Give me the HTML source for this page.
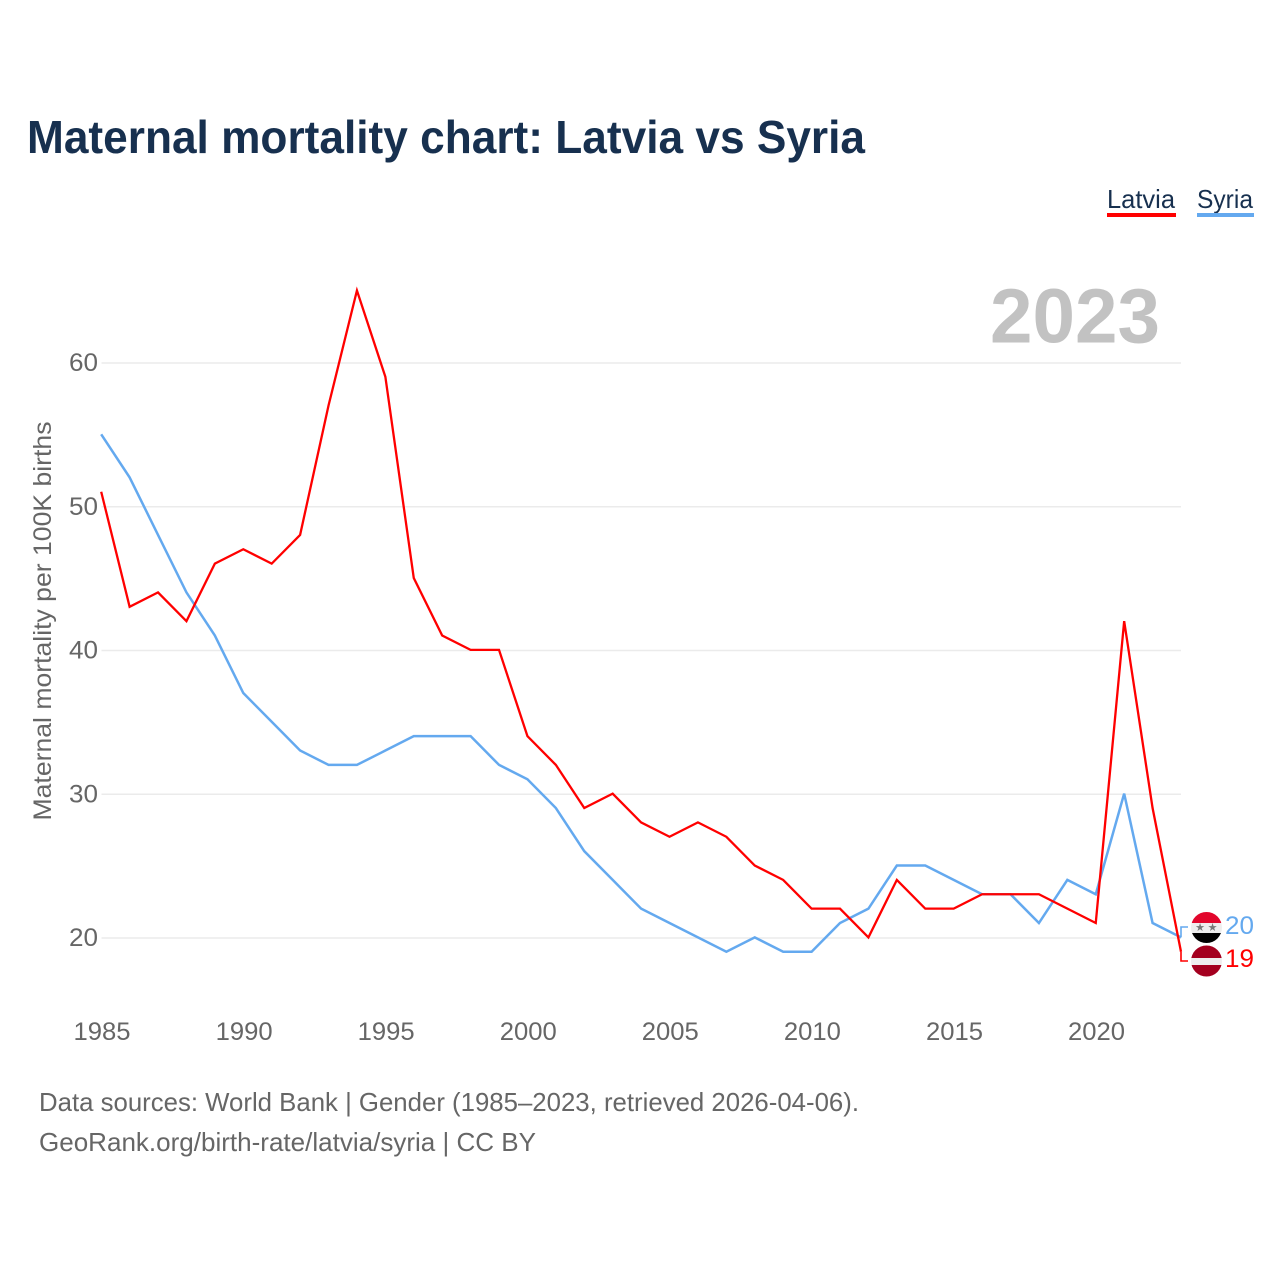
<!DOCTYPE html>
<html lang="en">
<head>
<meta charset="utf-8">
<title>Maternal mortality chart: Latvia vs Syria</title>
<style>
html,body{margin:0;padding:0;background:#fff;width:1280px;height:1280px;overflow:hidden}
svg{display:block}
text{font-family:"Liberation Sans",sans-serif}
</style>
</head>
<body>
<svg id="chart" xmlns="http://www.w3.org/2000/svg" width="1280" height="1280" viewBox="0 0 1280 1280">
  <rect width="1280" height="1280" fill="#ffffff"/>
  <text x="27" y="153" font-size="46" font-weight="700" fill="#17304f" textLength="838" lengthAdjust="spacingAndGlyphs">Maternal mortality chart: Latvia vs Syria</text>

  <g>
    <text x="1107" y="208" font-size="26" fill="#17304f" textLength="68" lengthAdjust="spacingAndGlyphs">Latvia</text>
    <rect x="1107" y="213" width="69" height="4" fill="#ff0000"/>
  </g>
  <g>
    <text x="1197" y="208" font-size="26" fill="#17304f" textLength="56" lengthAdjust="spacingAndGlyphs">Syria</text>
    <rect x="1197" y="213" width="57" height="4" fill="#64a9ef"/>
  </g>

  <text x="1160" y="342.5" text-anchor="end" font-size="77" font-weight="700" fill="#c2c2c2" textLength="170" lengthAdjust="spacingAndGlyphs">2023</text>

  <text transform="translate(51,621) rotate(-90)" text-anchor="middle" font-size="25" fill="#666666" textLength="399" lengthAdjust="spacingAndGlyphs">Maternal mortality per 100K births</text>

  <g id="grid"></g>
  <g id="yticks"></g>
  <g id="xticks"></g>
  <g id="series"></g>

  <g id="endmarks"></g>

  <defs>
    <clipPath id="clip-syria"><circle cx="1206.5" cy="927.5" r="15.5"/></clipPath>
    <clipPath id="clip-latvia"><circle cx="1206.5" cy="961" r="15.5"/></clipPath>
  </defs>
  <g clip-path="url(#clip-syria)">
    <rect x="1190" y="912" width="33" height="11" fill="#e2062c"/>
    <rect x="1190" y="923" width="33" height="10" fill="#eeeeee"/>
    <rect x="1190" y="933" width="33" height="11" fill="#000000"/>
    <text x="1200" y="931" text-anchor="middle" font-size="11" fill="#777777" style="font-family:'DejaVu Sans',sans-serif">★</text>
    <text x="1212.5" y="931" text-anchor="middle" font-size="11" fill="#777777" style="font-family:'DejaVu Sans',sans-serif">★</text>
  </g>
  <g clip-path="url(#clip-latvia)">
    <rect x="1190" y="945" width="33" height="13" fill="#a4001f"/>
    <rect x="1190" y="958" width="33" height="7" fill="#eeeeee"/>
    <rect x="1190" y="965" width="33" height="12" fill="#a4001f"/>
  </g>

  <text x="39" y="1111" font-size="26" fill="#666666" textLength="820" lengthAdjust="spacingAndGlyphs">Data sources: World Bank | Gender (1985–2023, retrieved 2026-04-06).</text>
  <text x="39" y="1151" font-size="26" fill="#666666" textLength="497" lengthAdjust="spacingAndGlyphs">GeoRank.org/birth-rate/latvia/syria | CC BY</text>
</svg>
<script>
const years = [1985,1986,1987,1988,1989,1990,1991,1992,1993,1994,1995,1996,1997,1998,1999,2000,2001,2002,2003,2004,2005,2006,2007,2008,2009,2010,2011,2012,2013,2014,2015,2016,2017,2018,2019,2020,2021,2022,2023];
const latviaValues = [51,43,44,42,46,47,46,48,57,65,59,45,41,40,40,34,32,29,30,28,27,28,27,25,24,22,22,20,24,22,22,23,23,23,22,21,42,29,19];
const syriaValues = [55,52,48,44,41,37,35,33,32,32,33,34,34,34,32,31,29,26,24,22,21,20,19,20,19,19,21,22,25,25,24,23,23,21,24,23,30,21,20];
const yTickValues = [20,30,40,50,60];
const xTickValues = [1985,1990,1995,2000,2005,2010,2015,2020];

const NS = 'http://www.w3.org/2000/svg';
function xScale(year){ return 101.2 + (year - 1985) * (1181 - 101.2) / 38; }
function yScale(v){ return 937.4 - (v - 20) * 14.375; }
function make(tag, attrs, parent, txt){
  const el = document.createElementNS(NS, tag);
  for (const k in attrs) el.setAttribute(k, attrs[k]);
  if (txt !== undefined) el.textContent = txt;
  parent.appendChild(el);
  return el;
}

const grid = document.getElementById('grid');
const yticks = document.getElementById('yticks');
yTickValues.forEach(function(v){
  const gy = yScale(v) + 0.6;
  const line = make('line', {x1:101.5, x2:1181, y1:gy, y2:gy, stroke:'#ebebeb', 'stroke-width':1.5}, grid);
  
  
  const label = make('text', {x:98, y:gy+8, 'text-anchor':'end', 'font-size':25, fill:'#666666', textLength:29, lengthAdjust:'spacingAndGlyphs'}, yticks, String(v));
  
  
});

const xticks = document.getElementById('xticks');
xTickValues.forEach(function(y){
  const label = make('text', {x:xScale(y)+0.8, y:1040, 'text-anchor':'middle', 'font-size':25, fill:'#666666', textLength:57, lengthAdjust:'spacingAndGlyphs'}, xticks, String(y));
  
  
});

function pathFor(values){
  return values.map(function(v,i){ return (i ? 'L' : 'M') + xScale(years[i]).toFixed(2) + ' ' + yScale(v).toFixed(2); }).join(' ');
}
const series = document.getElementById('series');
const syriaLine = make('path', {d:pathFor(syriaValues), fill:'none', stroke:'#64a9ef', 'stroke-width':2.5, 'stroke-linejoin':'miter'}, series);


const latviaLine = make('path', {d:pathFor(latviaValues), fill:'none', stroke:'#ff0000', 'stroke-width':2.3, 'stroke-linejoin':'miter'}, series);



const endmarks = document.getElementById('endmarks');
const lastX = xScale(years[years.length-1]);
const syriaLast = syriaValues[syriaValues.length-1];
const latviaLast = latviaValues[latviaValues.length-1];
const syriaConnector = make('path', {d:'M'+lastX+' '+yScale(syriaLast)+' V927 H1188', fill:'none', stroke:'#64a9ef', 'stroke-width':1.6}, endmarks);


const latviaConnector = make('path', {d:'M'+lastX+' '+yScale(latviaLast)+' V961 H1188', fill:'none', stroke:'#ff0000', 'stroke-width':1.6}, endmarks);


const syriaValue = make('text', {x:1225, y:934, 'font-size':25, fill:'#64a9ef', textLength:29, lengthAdjust:'spacingAndGlyphs'}, endmarks, String(syriaLast));


const latviaValue = make('text', {x:1225, y:967, 'font-size':25, fill:'#ff0000', textLength:29, lengthAdjust:'spacingAndGlyphs'}, endmarks, String(latviaLast));


</script>
</body>
</html>
